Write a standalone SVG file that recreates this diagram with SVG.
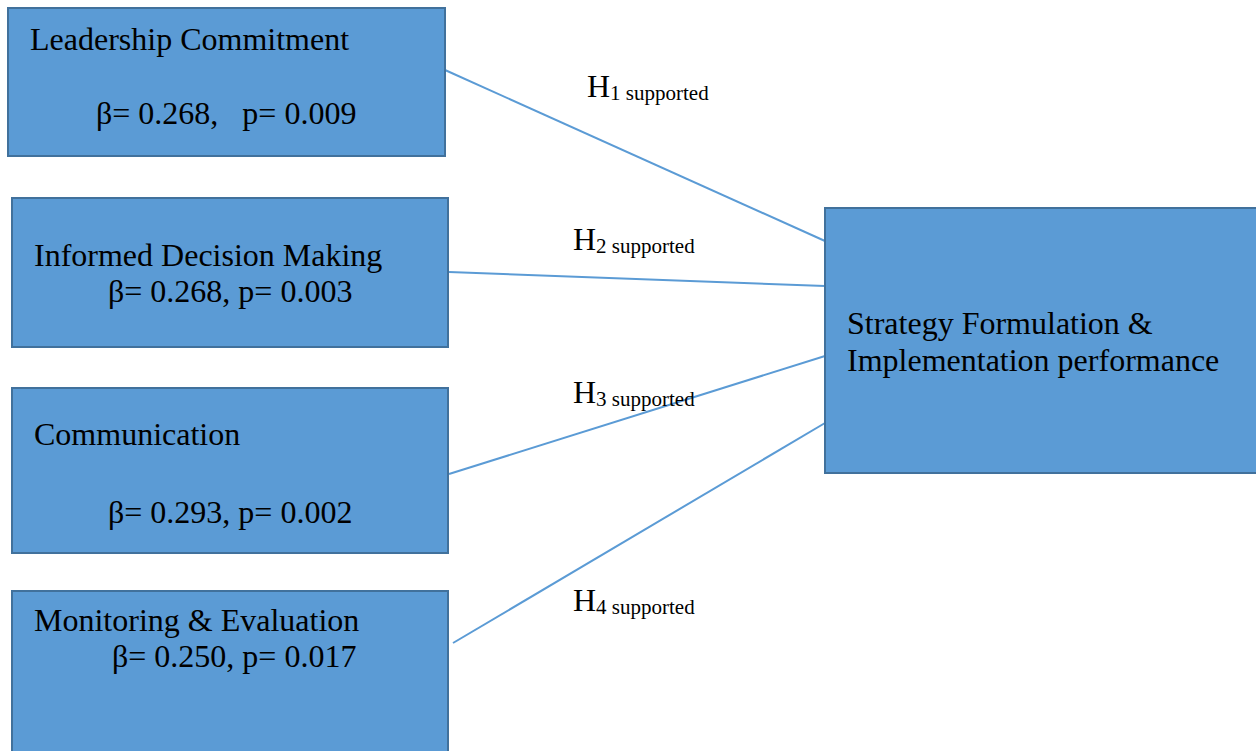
<svg xmlns="http://www.w3.org/2000/svg" width="1256" height="751" viewBox="0 0 1256 751">
<style>
.box{fill:#5B9BD5;stroke:#41719C;stroke-width:2}
.t{font-family:"Liberation Serif","Times New Roman",serif;font-size:32px;fill:#000}
.s{font-size:21px}
.c{stroke:#5B9BD5;stroke-width:2;fill:none}
</style>
<rect width="1256" height="751" fill="#fff"/>
<g id="connectors">
<line class="c" x1="445" y1="70" x2="825" y2="241"/>
<line class="c" x1="449" y1="272" x2="825" y2="286"/>
<line class="c" x1="449" y1="474" x2="825" y2="356"/>
<line class="c" x1="453" y1="643" x2="825" y2="423"/>
</g>
<g id="node-leadership">
<rect class="box" x="8" y="8" width="437" height="148"/>
<text class="t" x="30" y="50">Leadership Commitment</text>
<text class="t" x="96" y="124" xml:space="preserve">β= 0.268,   p= 0.009</text>
</g>
<g id="node-informed">
<rect class="box" x="12" y="198" width="436" height="149"/>
<text class="t" x="34" y="266">Informed Decision Making</text>
<text class="t" x="108" y="302">β= 0.268, p= 0.003</text>
</g>
<g id="node-communication">
<rect class="box" x="12" y="388" width="436" height="165"/>
<text class="t" x="34" y="445">Communication</text>
<text class="t" x="108" y="523">β= 0.293, p= 0.002</text>
</g>
<g id="node-monitoring">
<rect class="box" x="12" y="591" width="436" height="170"/>
<text class="t" x="34" y="631">Monitoring &amp; Evaluation</text>
<text class="t" x="112" y="667">β= 0.250, p= 0.017</text>
</g>
<g id="node-strategy">
<rect class="box" x="825" y="208" width="440" height="265"/>
<text class="t" x="847" y="334">Strategy Formulation &amp;</text>
<text class="t" x="847" y="371">Implementation performance</text>
</g>
<g id="labels">
<text class="t" x="587" y="97">H<tspan class="s" dy="3">1 supported</tspan></text>
<text class="t" x="573" y="250">H<tspan class="s" dy="3">2 supported</tspan></text>
<text class="t" x="573" y="403">H<tspan class="s" dy="3">3 supported</tspan></text>
<text class="t" x="573" y="611">H<tspan class="s" dy="3">4 supported</tspan></text>
</g>
</svg>
